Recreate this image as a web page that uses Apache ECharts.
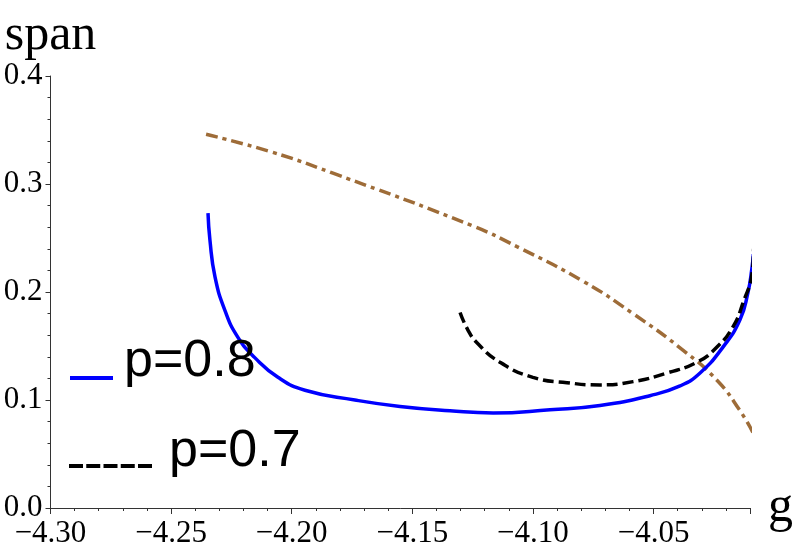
<!DOCTYPE html>
<html>
<head>
<meta charset="utf-8">
<script src="https://cdn.jsdelivr.net/npm/echarts@6/dist/echarts.min.js"></script>
<style>
    html, body { margin: 0; padding: 0; background: #fff; }
    #grafica { width: 797px; height: 555px; }
</style>
</head>
<body>
<div id="grafica"></div>
<script>
// valores
let gAzul = [-4.2347, -4.2339, -4.2318, -4.2277, -4.2223, -4.2152, -4.2057, -4.1945, -4.1738, -4.1551, -4.1344, -4.1165, -4.0929, -4.0722, -4.0515, -4.0390, -4.0307, -4.0212, -4.0142, -4.0109, -4.0092, -4.0086];
let spanAzul = [0.273, 0.248, 0.214, 0.183, 0.158, 0.139, 0.121, 0.109, 0.100, 0.094, 0.090, 0.088, 0.091, 0.095, 0.104, 0.113, 0.125, 0.149, 0.174, 0.199, 0.222, 0.235];

let gNegro = [-4.1302, -4.1270, -4.1232, -4.1137, -4.1000, -4.0859, -4.0722, -4.0585, -4.0444, -4.0320, -4.0237, -4.0170, -4.0129, -4.0091, -4.0085];
let spanNegro = [0.181, 0.165, 0.153, 0.135, 0.121, 0.116, 0.114, 0.117, 0.125, 0.135, 0.149, 0.168, 0.190, 0.218, 0.240];

let gCafe = [-4.2355, -4.2089, -4.1829, -4.1248, -4.1066, -4.0792, -4.0585, -4.0377, -4.0236, -4.0141, -4.0088];
let spanCafe = [0.346, 0.330, 0.310, 0.261, 0.242, 0.210, 0.180, 0.146, 0.118, 0.090, 0.070];

let xMin = -4.30, xMax = -4.01;

function pares(xs, ys) {
    return xs.map((x, i) => [x, ys[i]]);
}

let serif = 'Liberation Serif';
let sans = 'Liberation Sans';
let ejeColor = '#333';

let chart = echarts.init(document.getElementById('grafica'), null, { renderer: 'canvas' });
let option = {
    animation: false,
    grid: { left: 50.5, right: 47, top: 76, bottom: 47, containLabel: false },
    legend: [
        {
            data: [{ name: 'p=0.8', icon: 'path://M0,0 M0,32h43v4h-43z' }],
            left: 70, top: 336, padding: 0,
            itemWidth: 43, itemHeight: 36,
            selectedMode: false,
            textStyle: { fontFamily: sans, fontSize: 52, color: '#000', padding: [0, 0, 0, 6] }
        },
        {
            data: [{ name: 'p=0.7', icon: 'path://M0,0 M0,28h14v4h-14z M17.25,28h14v4h-14z M34.5,28h14v4h-14z M51.75,28h14v4h-14z M69,28h14v4h-14z' }],
            left: 69, top: 426, padding: 0,
            itemWidth: 83, itemHeight: 32,
            selectedMode: false,
            textStyle: { fontFamily: sans, fontSize: 52, color: '#000', padding: [0, 0, 0, 12] }
        }
    ],
    xAxis: {
        type: 'value', position: 'bottom',
        min: xMin, max: xMax, interval: 0.05,
        name: 'g', nameLocation: 'end', nameGap: 18,
        nameTextStyle: { fontFamily: serif, fontSize: 50, color: '#000', verticalAlign: 'middle' },
        axisLine: { show: true, onZero: false, lineStyle: { color: ejeColor, width: 1 } },
        axisTick: { show: true, inside: false, length: 6, lineStyle: { color: ejeColor, width: 1 } },
        minorTick: { show: true, splitNumber: 5, length: 3, lineStyle: { color: ejeColor, width: 1 } },
        axisLabel: {
            show: true, showMaxLabel: false, margin: 10,
            fontFamily: serif, fontSize: 31, color: '#000',
            formatter: v => '\u2212' + Math.abs(v).toFixed(2)
        },
        splitLine: { show: false },
        minorSplitLine: { show: false }
    },
    yAxis: {
        type: 'value', position: 'left',
        min: 0, max: 0.4, interval: 0.1,
        name: 'span', nameLocation: 'end', nameGap: 8,
        nameTextStyle: { fontFamily: serif, fontSize: 50, color: '#000' },
        axisLine: { show: true, onZero: false, lineStyle: { color: ejeColor, width: 1 } },
        axisTick: { show: true, inside: false, length: 5, lineStyle: { color: ejeColor, width: 1 } },
        minorTick: { show: true, splitNumber: 5, length: 3, lineStyle: { color: ejeColor, width: 1 } },
        axisLabel: {
            show: true, margin: 8, fontFamily: serif, fontSize: 31, color: '#000',
            formatter: v => v.toFixed(1)
        },
        splitLine: { show: false },
        minorSplitLine: { show: false }
    },
    series: [
        {
            name: 'cafe', type: 'line', data: pares(gCafe, spanCafe),
            showSymbol: false, symbol: 'none', smooth: 0.5, clip: false, silent: true,
            lineStyle: { color: '#9e6c38', width: 3.5, type: [12, 5, 4, 5] }
        },
        {
            name: 'p=0.8', type: 'line', data: pares(gAzul, spanAzul),
            showSymbol: false, symbol: 'none', smooth: 0.5, clip: false, silent: true,
            itemStyle: { color: '#0000ff' },
            lineStyle: { color: '#0000ff', width: 3.5 }
        },
        {
            name: 'p=0.7', type: 'line', data: pares(gNegro, spanNegro),
            showSymbol: false, symbol: 'none', smooth: 0.5, clip: false, silent: true,
            itemStyle: { color: '#000' },
            lineStyle: { color: '#000', width: 3.5, type: [11, 5] }
        }
    ]
};
chart.setOption(option);
</script>
</body>
</html>
